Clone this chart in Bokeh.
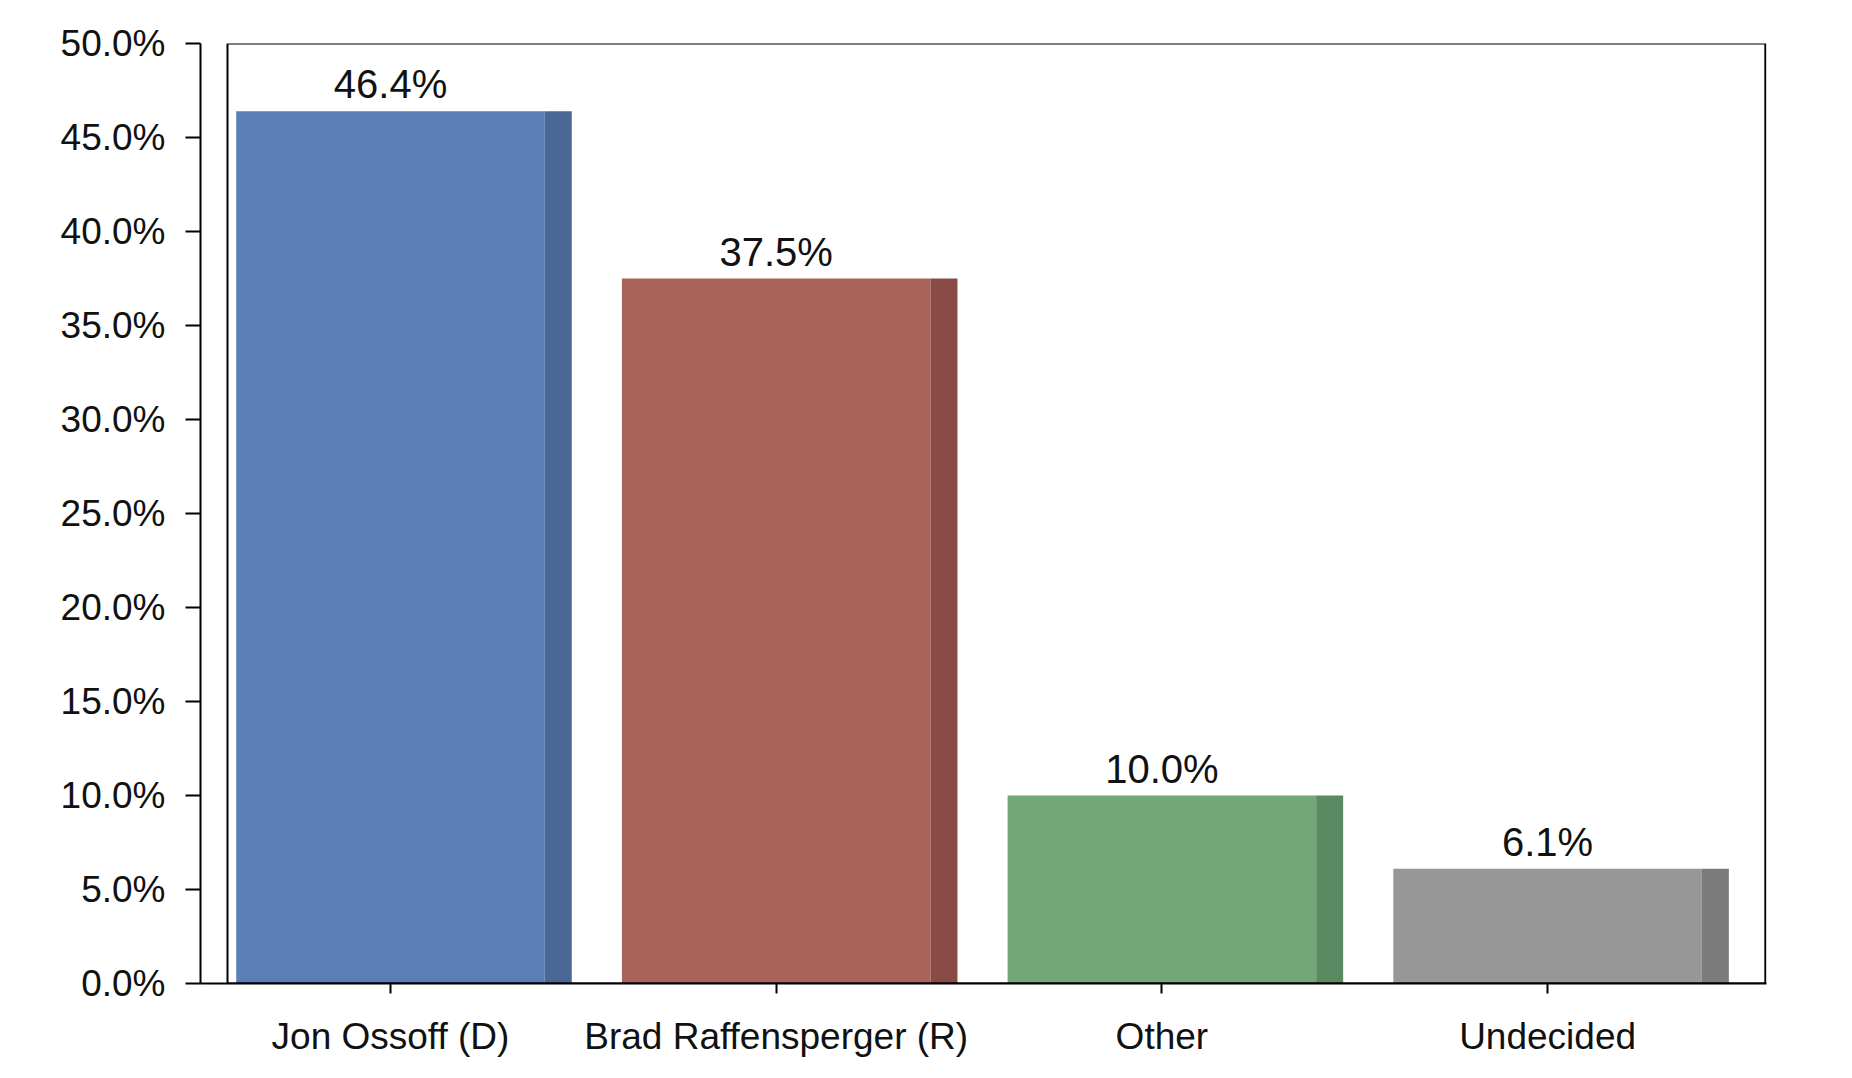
from bokeh.plotting import figure
from bokeh.models import ColumnDataSource, FixedTicker, PrintfTickFormatter, BoxAnnotation, Range1d
from bokeh.core.properties import value
from bokeh.transform import dodge
from bokeh.embed import file_html
from bokeh.resources import INLINE

# ---- data ----
categories = ["Jon Ossoff (D)", "Brad Raffensperger (R)", "Other", "Undecided"]
shares = [46.4, 37.5, 10.0, 6.1]
labels = ["46.4%", "37.5%", "10.0%", "6.1%"]
y_ticks = [0, 5, 10, 15, 20, 25, 30, 35, 40, 45, 50]
bar_colors = ["#5a7fb4", "#a8635b", "#72a878", "#979797"]
side_colors = ["#4a6795", "#8a4b47", "#5b8a62", "#7b7b7b"]

positions = list(range(len(categories)))
src = ColumnDataSource(dict(x=positions, top=shares, label=labels,
                            color=bar_colors, side=side_colors))

FONT = "Liberation Sans"
x_start, x_end = -0.4926, 3.5676

p = figure(width=1840, height=1066, output_backend="svg", toolbar_location=None,
           x_range=Range1d(x_start, x_end), y_range=Range1d(0, 50),
           min_border_left=200, min_border_right=74, min_border_top=43, min_border_bottom=83)

p.outline_line_color = None
p.grid.visible = False
p.background_fill_color = "white"
p.border_fill_color = "white"

# bars: main face plus a darker side strip
p.vbar(x="x", top="top", width=0.8, bottom=0, source=src, fill_color="color", line_color=None)
p.vbar(x=dodge("x", 0.435), top="top", width=0.07, bottom=0, source=src,
       fill_color="side", line_color=None)

# value labels
p.text(x="x", y="top", text="label", source=src, text_align="center", text_baseline="bottom",
       y_offset=-5, text_font=value(FONT), text_font_size="40px", text_color="#111111")

# frame box (offset from the y spine)
p.add_layout(BoxAnnotation(left=-0.4226, right=x_end - 0.003, bottom=0, top=50,
                           fill_alpha=0, fill_color=None, line_color="black",
                           line_alpha=1, line_width=2))

# y axis
p.yaxis.ticker = FixedTicker(ticks=y_ticks)
p.yaxis.formatter = PrintfTickFormatter(format="%.1f%%")
p.yaxis.axis_line_width = 2
p.yaxis.axis_line_color = "black"
p.yaxis.major_tick_line_width = 2
p.yaxis.major_tick_out = 15
p.yaxis.major_tick_in = 0
p.yaxis.minor_tick_line_color = None
p.yaxis.major_label_standoff = 20
p.yaxis.major_label_text_font = FONT
p.yaxis.major_label_text_font_size = "37px"
p.yaxis.major_label_text_color = "#111111"

# x axis
p.xaxis.ticker = FixedTicker(ticks=positions)
p.xaxis.major_label_overrides = {i: c for i, c in zip(positions, categories)}
p.xaxis.axis_line_width = 2
p.xaxis.axis_line_color = "black"
p.xaxis.major_tick_line_width = 2
p.xaxis.major_tick_out = 10
p.xaxis.major_tick_in = 0
p.xaxis.minor_tick_line_color = None
p.xaxis.major_label_standoff = 22
p.xaxis.major_label_text_font = FONT
p.xaxis.major_label_text_font_size = "37px"
p.xaxis.major_label_text_color = "#111111"

open("out.html", "w").write(file_html(p, INLINE))
